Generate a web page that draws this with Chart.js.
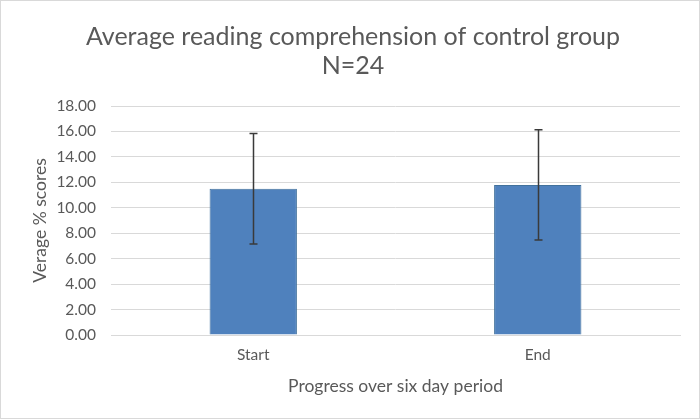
<!DOCTYPE html>
<html>
<head>
<meta charset="utf-8">
<script src="https://cdn.jsdelivr.net/npm/chart.js@4/dist/chart.umd.min.js"></script>
<style>
  html, body { margin: 0; padding: 0; background: #fff; }
  #wrap { position: relative; width: 700px; height: 419px; box-sizing: border-box; border: 1px solid #d9d9d9; }
  canvas { display: block; }
</style>
</head>
<body>
<div id="wrap"><canvas id="chart" width="698" height="417"></canvas></div>
<script>
// Chart data
const categories = ['Start', 'End'];
const meanScores = [11.5, 11.8];
const errorAmounts = [4.34, 4.33];
const titleLines = ['Average reading comprehension of control group', 'N=24'];

const textColor = '#595959';
const gridColor = '#d9d9d9';

/**
 * Draws symmetric error bars on top of the bars
 */
const errorBarPlugin = {
    id: 'errorBars',
    afterDatasetsDraw(chart) {
        const ctx = chart.ctx;
        const yScale = chart.scales.y;
        const meta = chart.getDatasetMeta(0);
        ctx.save();
        ctx.strokeStyle = '#3a3a3a';
        ctx.lineWidth = 1.5;
        meta.data.forEach((bar, i) => {
            const x = Math.round(bar.x) + 0.5;
            const top = yScale.getPixelForValue(meanScores[i] + errorAmounts[i]);
            const bottom = yScale.getPixelForValue(meanScores[i] - errorAmounts[i]);
            ctx.beginPath();
            ctx.moveTo(x, top);
            ctx.lineTo(x, bottom);
            ctx.moveTo(x - 4, top);
            ctx.lineTo(x + 4, top);
            ctx.moveTo(x - 4, bottom);
            ctx.lineTo(x + 4, bottom);
            ctx.stroke();
        });
        ctx.restore();
    }
};

Chart.defaults.font.family = "Lato, 'Open Sans', sans-serif";
Chart.defaults.color = textColor;

new Chart(document.getElementById('chart').getContext('2d'), {
    type: 'bar',
    data: {
        labels: categories,
        datasets: [{
            label: 'Average',
            data: meanScores,
            backgroundColor: '#4F81BD',
            borderColor: '#41719C',
            borderWidth: 1,
            categoryPercentage: 1,
            barPercentage: 0.307
        }]
    },
    options: {
        responsive: false,
        animation: false,
        layout: {
            padding: { left: 25, right: 19, top: 12, bottom: 21 }
        },
        plugins: {
            legend: { display: false },
            tooltip: { enabled: false },
            title: {
                display: true,
                text: titleLines,
                color: textColor,
                font: { size: 25, weight: 'normal', lineHeight: 1.18 },
                padding: { top: 9, bottom: 25 }
            }
        },
        scales: {
            y: {
                min: 0,
                max: 18,
                ticks: {
                    stepSize: 2,
                    padding: 15,
                    color: textColor,
                    font: { size: 15.5 },
                    callback: (v) => v.toFixed(2)
                },
                grid: { color: gridColor, drawTicks: false },
                border: { display: false },
                title: {
                    display: true,
                    text: 'Verage % scores',
                    color: textColor,
                    font: { size: 17.5 },
                    padding: { top: 4, bottom: 4 }
                },
                afterFit(scale) { scale.width = 85; }
            },
            x: {
                ticks: {
                    padding: 11,
                    color: textColor,
                    font: { size: 15.5 }
                },
                grid: { display: false, drawTicks: false },
                border: { color: gridColor, width: 1 },
                title: {
                    display: true,
                    text: 'Progress over six day period',
                    color: textColor,
                    font: { size: 17.5 },
                    padding: { top: 8, bottom: 0 }
                },
                afterFit(scale) { scale.height = 62; }
            }
        }
    },
    plugins: [errorBarPlugin]
});
</script>
</body>
</html>
